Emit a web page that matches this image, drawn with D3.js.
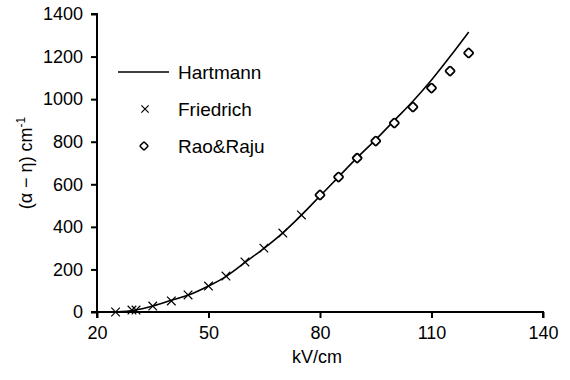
<!DOCTYPE html>
<html>
<head>
<meta charset="utf-8">
<script src="https://cdn.jsdelivr.net/npm/d3@7"></script>
<style>
  body { margin: 0; background: #fff; }
  svg text { font-family: "Liberation Sans", Arial, sans-serif; fill: #000; }
</style>
</head>
<body>
<div class="svg-container"></div>
<script>
// Hartmann (line)
const hartmannX = [25, 30, 35, 40, 45, 50, 55, 60, 65, 70, 75, 80, 85, 90, 95, 100, 105, 110, 115, 120];
const hartmannY = [0, 8, 28, 55, 82, 122, 170, 235, 300, 372, 455, 545, 635, 725, 810, 900, 990, 1090, 1200, 1315];

// Friedrich (crosses)
const friedrichX = [25, 29.4, 30.5, 35, 40, 44.5, 50, 54.7, 59.8, 64.9, 70, 75];
const friedrichY = [0, 9, 9, 28, 52, 80, 122, 169, 235, 300, 371, 456];

// Rao&Raju (diamonds)
const raoX = [80, 85, 90, 95, 100, 105, 110, 115, 120];
const raoY = [550, 634, 723, 803, 888, 963, 1052, 1132, 1217];

const xTicks = [20, 50, 80, 110, 140];
const yTicks = [0, 200, 400, 600, 800, 1000, 1200, 1400];
const seriesNames = ["Hartmann", "Friedrich", "Rao&Raju"];

let margin = { top: 14, right: 27, bottom: 68, left: 97 },
    width = 570 - margin.left - margin.right,
    height = 380 - margin.top - margin.bottom;

let svg = d3.select(".svg-container").append("svg")
  .attr("width", 570)
  .attr("height", 380);

let g = svg.append("g")
  .attr("transform", "translate(" + margin.left + "," + margin.top + ")");

let x = d3.scaleLinear().domain([20, 140]).range([0, width]);
let y = d3.scaleLinear().domain([0, 1400]).range([height, 0]);

// axes
let xAxis = d3.axisBottom(x).tickValues(xTicks).tickSize(6).tickPadding(8).tickFormat(d3.format("d"));
let yAxis = d3.axisLeft(y).tickValues(yTicks).tickSize(6).tickPadding(8).tickFormat(d3.format("d"));

let gx = g.append("g")
  .attr("transform", "translate(0," + height + ")")
  .call(xAxis);
let gy = g.append("g").call(yAxis);

[gx, gy].forEach(a => {
  a.select(".domain").attr("stroke", "#000").attr("stroke-width", 2);
  a.selectAll(".tick line").attr("stroke", "#000").attr("stroke-width", 2);
  a.selectAll(".tick text").style("font-size", "18px").attr("fill", "#000");
});
gx.select(".domain").attr("d", "M0,6V0H" + width + "V6");
gy.select(".domain").attr("d", "M-6,0H0V" + height + "H-6");

// axis titles
svg.append("text")
  .attr("x", margin.left + x(80) - 3)
  .attr("y", 363)
  .attr("text-anchor", "middle")
  .style("font-size", "18px")
  .text("kV/cm");

let yt = svg.append("text")
  .attr("transform", "translate(32,163) rotate(-90)")
  .attr("text-anchor", "middle")
  .style("font-size", "18px");
yt.append("tspan").text("(\u03b1 \u2212 \u03b7)  cm");
yt.append("tspan").attr("dy", -7).style("font-size", "12px").text("-1");

// Hartmann line
let lineData = hartmannX.map((v, i) => [v, hartmannY[i]]);
g.append("path")
  .datum(lineData)
  .attr("fill", "none")
  .attr("stroke", "#000")
  .attr("stroke-width", 1.6)
  .attr("d", d3.line().x(d => x(d[0])).y(d => y(d[1])).curve(d3.curveMonotoneX));

// Friedrich crosses
let cross = d3.symbol().type(d3.symbolX).size(50);
g.selectAll(".cross")
  .data(friedrichX.map((v, i) => [v, friedrichY[i]]))
  .enter().append("path")
  .attr("class", "cross")
  .attr("d", cross)
  .attr("transform", d => "translate(" + x(d[0]) + "," + y(d[1]) + ")")
  .attr("fill", "none")
  .attr("stroke", "#000")
  .attr("stroke-width", 1.2);

// Rao&Raju diamonds
g.selectAll(".diamond")
  .data(raoX.map((v, i) => [v, raoY[i]]))
  .enter().append("rect")
  .attr("class", "diamond")
  .attr("x", -3.5).attr("y", -3.5)
  .attr("width", 7).attr("height", 7)
  .attr("rx", 1.2)
  .attr("transform", d => "translate(" + x(d[0]) + "," + y(d[1]) + ") rotate(45)")
  .attr("fill", "#fff")
  .attr("stroke", "#000")
  .attr("stroke-width", 1.8);

// legend
let legend = svg.append("g").attr("transform", "translate(118,72)");
legend.append("line")
  .attr("x1", 0).attr("x2", 51).attr("y1", 0).attr("y2", 0)
  .attr("stroke", "#000").attr("stroke-width", 1.6);
legend.append("path")
  .attr("d", d3.symbol().type(d3.symbolX).size(36))
  .attr("transform", "translate(27,37)")
  .attr("fill", "none").attr("stroke", "#000").attr("stroke-width", 1.2);
legend.append("rect")
  .attr("x", -3).attr("y", -3).attr("width", 6).attr("height", 6).attr("rx", 1)
  .attr("transform", "translate(26,74) rotate(45)")
  .attr("fill", "#fff").attr("stroke", "#000").attr("stroke-width", 1.6);
legend.selectAll(".legend-label")
  .data(seriesNames)
  .enter().append("text")
  .attr("class", "legend-label")
  .attr("x", 60)
  .attr("y", (d, i) => i * 37)
  .attr("dy", "0.36em")
  .style("font-size", "19px")
  .text(d => d);
</script>
</body>
</html>
